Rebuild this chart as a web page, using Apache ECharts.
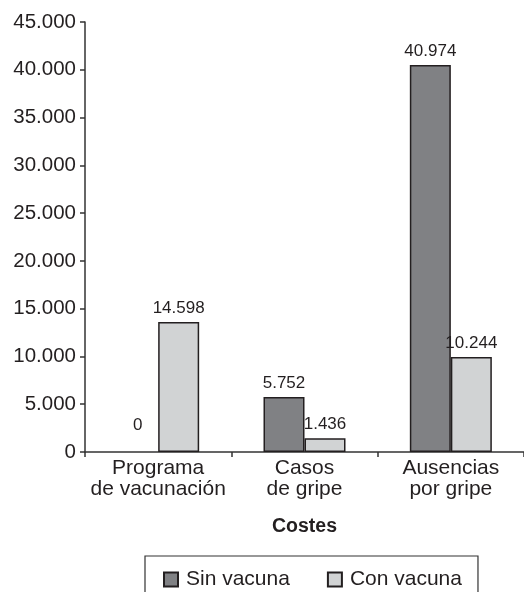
<!DOCTYPE html>
<html>
<head>
<meta charset="utf-8">
<script src="https://cdn.jsdelivr.net/npm/echarts@6/dist/echarts.min.js"></script>
<style>
html,body{margin:0;padding:0;background:#fff;}
#main{width:524px;height:592px;}
</style>
</head>
<body>
<div id="main"></div>
<script>
// Categories (x axis)
const categories = ['Programa\nde vacunación', 'Casos\nde gripe', 'Ausencias\npor gripe'];
// Bar heights as drawn in the reference
const sinVacuna = [0, 5752, 40500];
const conVacuna = [13600, 1436, 9950];
// Printed value labels
const sinVacunaLabels = ['0', '5.752', '40.974'];
const conVacunaLabels = ['14.598', '1.436', '10.244'];
// Y axis ticks
const yMin = 0, yMax = 45000, yStep = 5000;
const seriesNames = ['Sin vacuna', 'Con vacuna'];
const axisTitle = 'Costes';

const FONT = '"Liberation Sans", Arial, Helvetica, sans-serif';
const TXT = '#231f20';

function fmt(v) {
  return String(v).replace(/\B(?=(\d{3})+(?!\d))/g, '.');
}

const chart = echarts.init(document.getElementById('main'));
chart.setOption({
  animation: false,
  textStyle: { fontFamily: FONT, color: TXT },
  grid: { left: 85, right: 0, top: 22, bottom: 140 },
  legend: {
    data: seriesNames,
    left: 145, top: 556,
    padding: [13, 16, 22, 18],
    itemWidth: 14, itemHeight: 14, itemGap: 37,
    icon: 'rect',
    borderColor: '#333', borderWidth: 1.2,
    textStyle: { fontSize: 21, color: TXT, fontFamily: FONT, padding: [0, 0, 0, 3] }
  },
  xAxis: {
    type: 'category',
    data: categories,
    name: axisTitle,
    nameLocation: 'middle',
    nameGap: 65,
    nameTextStyle: { fontSize: 19.5, fontWeight: 'bold', color: TXT, fontFamily: FONT },
    axisLine: { lineStyle: { color: '#333', width: 1.5 } },
    axisTick: { show: true, interval: 0, length: 5, lineStyle: { color: '#333', width: 1.5 } },
    axisLabel: { interval: 0, fontSize: 21, color: TXT, lineHeight: 21, margin: 6, fontFamily: FONT }
  },
  yAxis: {
    type: 'value',
    min: yMin, max: yMax, interval: yStep,
    splitLine: { show: false },
    axisLine: { show: true, lineStyle: { color: '#333', width: 1.5 } },
    axisTick: { show: true, length: 5, lineStyle: { color: '#333', width: 1.5 } },
    axisLabel: { fontSize: 20.5, color: TXT, margin: 9, fontFamily: FONT, formatter: fmt }
  },
  series: [
    {
      name: seriesNames[0], type: 'bar', barWidth: 41, barGap: '0%',
      data: sinVacuna.map((v, i) => ({
        value: v,
        itemStyle: v === 0 ? { borderWidth: 0 } : {},
        label: v === 0 ? { offset: [0, -13] } : {}
      })),
      itemStyle: { color: '#808184', borderColor: '#231f20', borderWidth: 1.5 },
      label: {
        show: true, position: 'top', distance: 5, fontSize: 17, color: TXT, fontFamily: FONT,
        formatter: p => sinVacunaLabels[p.dataIndex]
      }
    },
    {
      name: seriesNames[1], type: 'bar', barWidth: 41,
      data: conVacuna,
      itemStyle: { color: '#d1d3d4', borderColor: '#231f20', borderWidth: 1.5 },
      label: {
        show: true, position: 'top', distance: 5, fontSize: 17, color: TXT, fontFamily: FONT,
        formatter: p => conVacunaLabels[p.dataIndex]
      }
    }
  ]
});
</script>
</body>
</html>
